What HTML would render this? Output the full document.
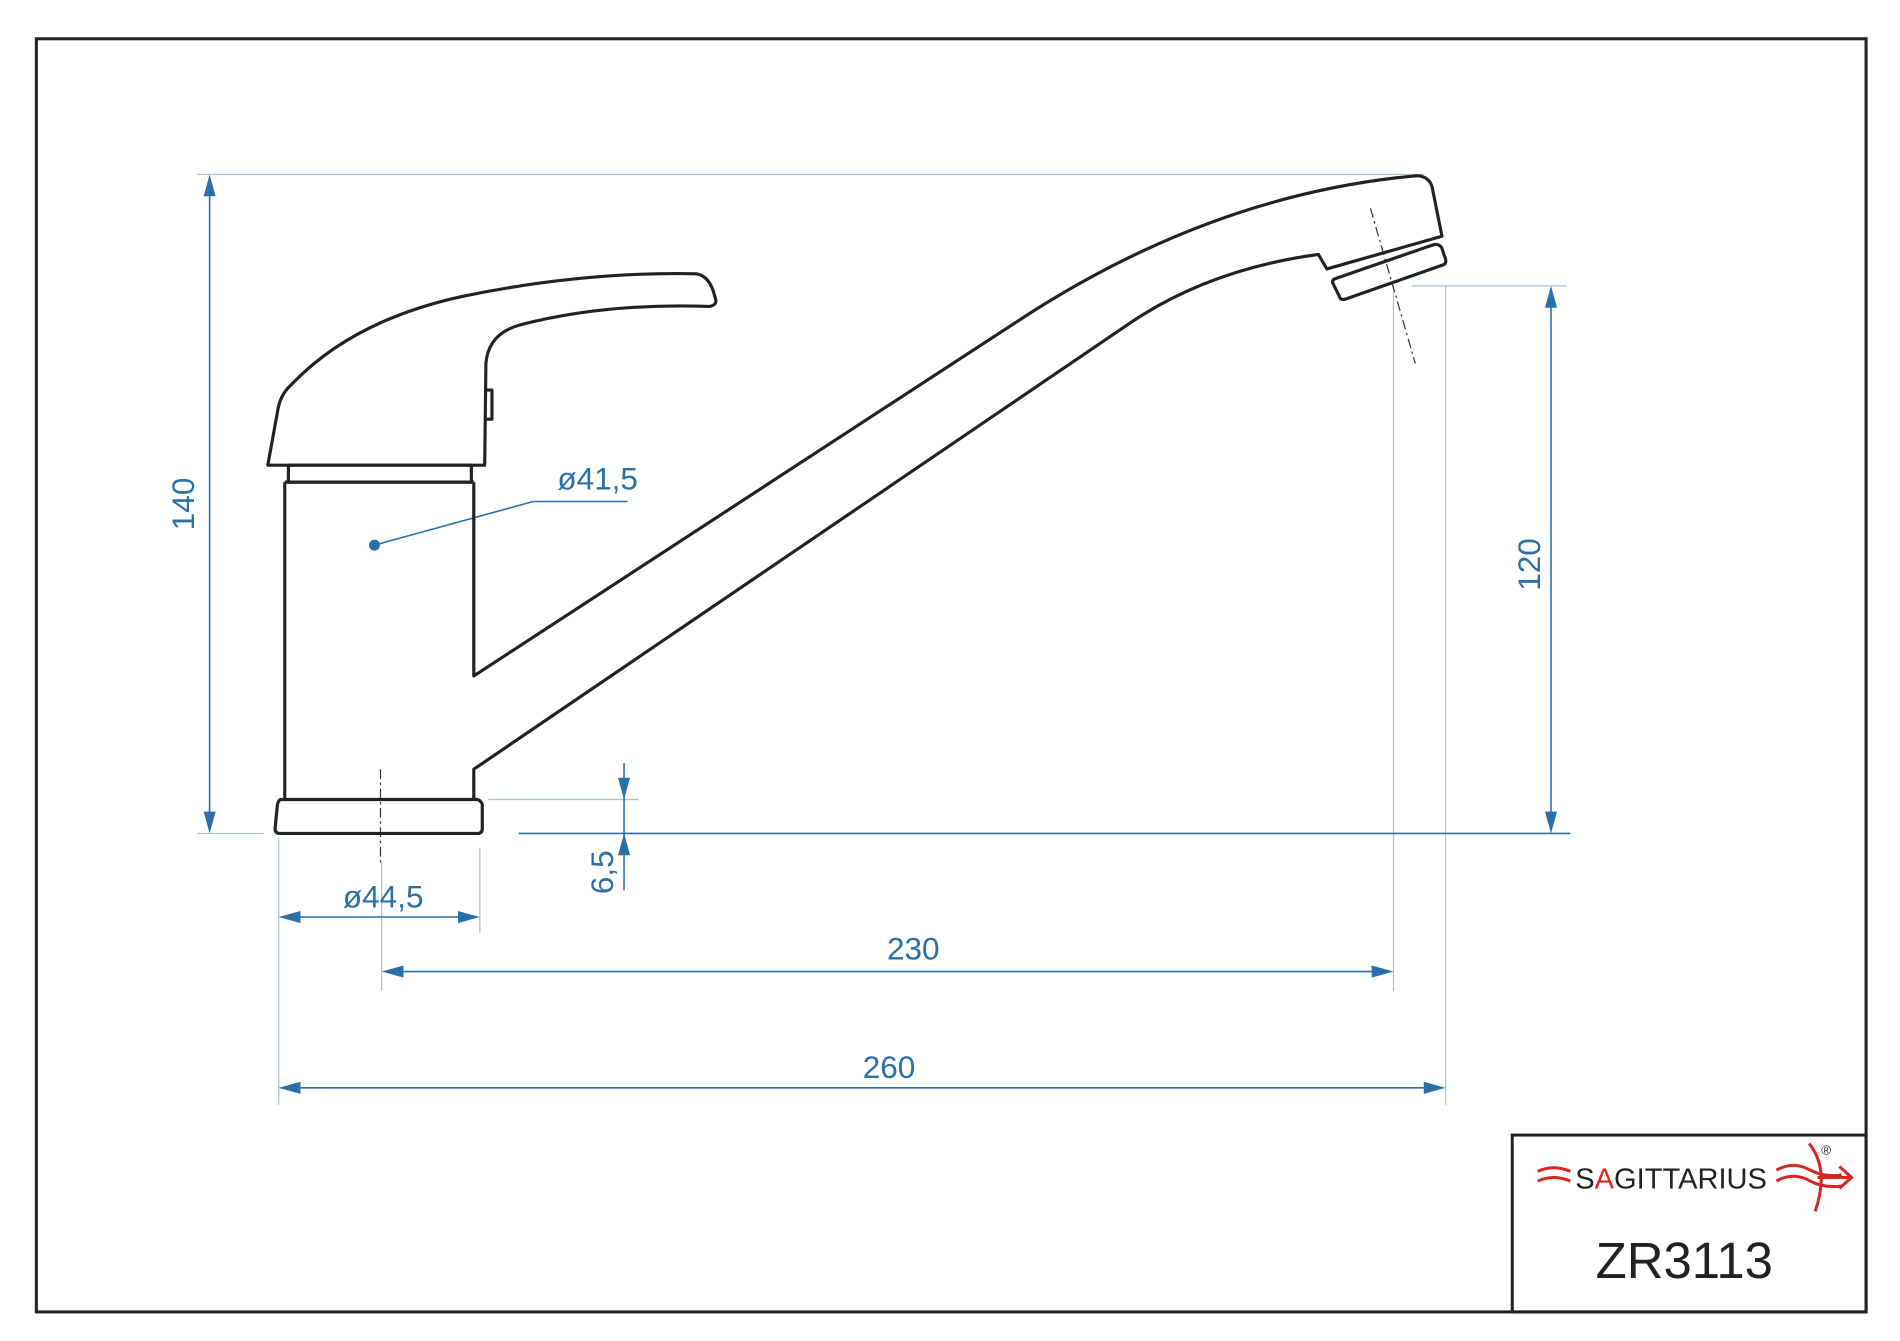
<!DOCTYPE html>
<html><head><meta charset="utf-8"><style>html,body{margin:0;padding:0;background:#fff}svg{display:block}</style></head>
<body>
<svg width="1900" height="1341" viewBox="0 0 1568 1107" preserveAspectRatio="none" xmlns="http://www.w3.org/2000/svg" font-family="Liberation Sans, sans-serif">
<rect x="0" y="0" width="1568" height="1107" fill="#fff"/>
<rect x="30" y="32" width="1510" height="1051" fill="none" stroke="#222" stroke-width="2.5"/>
<rect x="1248" y="937" width="292" height="146" fill="none" stroke="#222" stroke-width="2.5"/>
<!-- extension lines -->
<g stroke="#a9bfcf" stroke-width="1" fill="none">
<line x1="163" y1="144" x2="1175" y2="144"/>
<line x1="163" y1="688" x2="218" y2="688"/>
<line x1="1165" y1="236" x2="1293" y2="236"/>
<line x1="1150" y1="236" x2="1150" y2="818"/>
<line x1="1193" y1="236" x2="1193" y2="912"/>
<line x1="230" y1="692" x2="230" y2="912"/>
<line x1="396" y1="700" x2="396" y2="770"/>
<line x1="315" y1="712" x2="315" y2="818"/>
<line x1="403" y1="660" x2="527" y2="660"/>
</g>
<!-- dim lines -->
<g stroke="#2a6fa8" stroke-width="1.3" fill="none">
<line x1="428" y1="688" x2="1296" y2="688"/>
<line x1="173" y1="150" x2="173" y2="682"/>
<line x1="1280" y1="242" x2="1280" y2="682"/>
<line x1="236" y1="757" x2="390" y2="757"/>
<line x1="321" y1="802" x2="1144" y2="802"/>
<line x1="236" y1="898" x2="1187" y2="898"/>
<line x1="515" y1="630" x2="515" y2="735"/>
<polyline points="440,414 518,414"/>
<line x1="309" y1="450" x2="440" y2="414"/>
</g>
<g fill="#2a6fa8">
<polygon points="173,144 168,162 178,162"/>
<polygon points="173,688 168,670 178,670"/>
<polygon points="1280,236 1275,254 1285,254"/>
<polygon points="1280,688 1275,670 1285,670"/>
<polygon points="230,757 248,752 248,762"/>
<polygon points="396,757 378,752 378,762"/>
<polygon points="315,802 333,797 333,807"/>
<polygon points="1150,802 1132,797 1132,807"/>
<polygon points="230,898 248,893 248,903"/>
<polygon points="1193,898 1175,893 1175,903"/>
<polygon points="515,660 510,642 520,642"/>
<polygon points="515,688 510,706 520,706"/>
<circle cx="309" cy="450" r="4.5"/>
</g>
<g fill="#2a6fa8" font-size="26">
<text x="460" y="404">ø41,5</text>
<text x="283" y="749">ø44,5</text>
<text x="732" y="792">230</text>
<text x="712" y="890">260</text>
<text transform="translate(160,416) rotate(-90)" text-anchor="middle">140</text>
<text transform="translate(1271,466) rotate(-90)" text-anchor="middle">120</text>
<text transform="translate(506,720) rotate(-90)" text-anchor="middle">6,5</text>
</g>
<!-- center lines -->
<g stroke="#333" stroke-width="1" stroke-dasharray="8,3,2,3" fill="none">
<line x1="314" y1="635" x2="314" y2="712"/>
<line x1="1131" y1="172" x2="1168" y2="300"/>
</g>
<!-- faucet -->
<g stroke="#222" stroke-width="2.6" fill="none" stroke-linejoin="round">
<path d="M232,660 L394,660 Q397,661 398,664 L398,684 Q398,688 394,688 L231,688 Q227,688 227,684 L229,664 Q230,660 232,660 Z"/>
<line x1="235" y1="398" x2="235" y2="660"/>
<path d="M391,398 L391,558 L840,265 Q1000,160 1170,145 Q1180,146 1182,155 L1190,195 L1095,222 L1088,210 Q1000,222 935,265 L391,635 L391,660"/>
<path d="M238,384 L389,384 L389,398 L238,398 Z"/>
<line x1="235" y1="398" x2="391" y2="398"/>
<path d="M221,384 L400,384 L401,300 Q403,275 430,268 Q500,250 585,253 Q593,252 590,245 Q586,228 575,226 Q480,224 380,245 Q290,265 240,318 Q231,326 229,340 Z"/>
<path d="M401,322 L406,322 L406,346 L401,346"/>
<path d="M1102,230 L1183,202 Q1188,201 1190,205 L1193,214 Q1194,218 1190,219 L1110,247 Q1106,248 1105,244 L1100,234 Q1099,231 1102,230 Z"/>
</g>
<!-- logo -->
<g fill="none" stroke="#d6261e" stroke-width="2.5">
<path d="M1269,967 Q1282,961 1296,967"/>
<path d="M1269,975 Q1282,969 1296,975"/>
<path d="M1466,966 Q1480,958 1494,966 Q1505,972 1520,970"/>
<path d="M1466,975 Q1480,967 1494,975 Q1505,981 1520,979"/>
<path d="M1493,944 Q1510,965 1498,1000"/>
<path d="M1500,972 L1528,972 M1518,963 L1528,972 L1518,981"/>
</g>
<text x="1300" y="981" font-size="24" fill="#222">S<tspan fill="#d6261e">A</tspan>GITTARIUS</text>
<text x="1503" y="953" font-size="11" fill="#222">®</text>
<text x="1390" y="1055" font-size="42" fill="#222" text-anchor="middle">ZR3113</text>
</svg>
</body></html>
